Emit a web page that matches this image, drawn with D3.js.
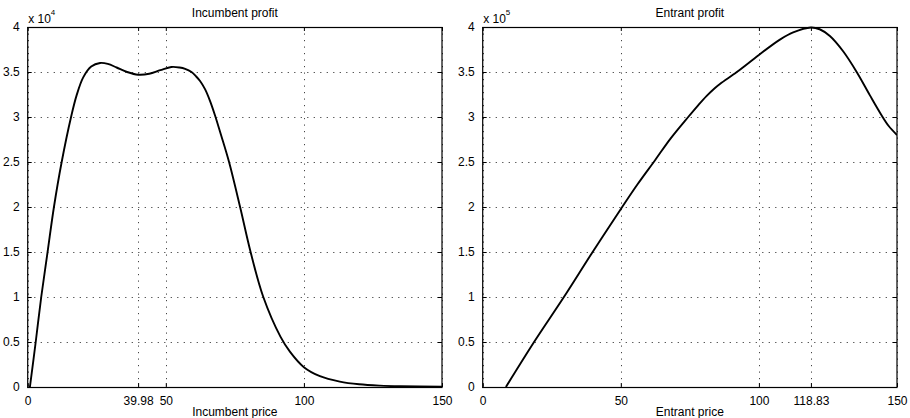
<!DOCTYPE html>
<html>
<head>
<meta charset="utf-8">
<script src="https://cdn.jsdelivr.net/npm/d3@7"></script>
<style>
  html, body { margin: 0; padding: 0; background: #fff; }
  svg { display: block; }
  text { font-family: "Liberation Sans", Arial, Helvetica, sans-serif; fill: #000; }
</style>
</head>
<body>
<svg id="chart" width="910" height="418"></svg>
<script>
// ---- data ----
const incumbentPrice = [0.8, 2.9, 4.9, 7.2, 9.5, 12.3, 15.7, 17.7, 20.1, 23, 26.2, 29, 32.2, 36, 40, 44, 48, 52, 55, 57, 59.3, 61, 62.4, 64.2, 66, 67.8, 70, 72.9, 76.9, 80.7, 85.3, 91.5, 95, 100, 105.8, 113, 120, 127.5, 135, 150];
const incumbentProfit = [0, 0.5, 1.0, 1.5, 2.0, 2.5, 3.0, 3.24, 3.44, 3.56, 3.60, 3.59, 3.55, 3.50, 3.47, 3.48, 3.52, 3.556, 3.55, 3.535, 3.50, 3.45, 3.40, 3.31, 3.18, 3.02, 2.80, 2.5, 2.0, 1.5, 1.0, 0.56, 0.39, 0.22, 0.12, 0.06, 0.03, 0.015, 0.008, 0.003];

const entrantPrice = [8.4, 18.6, 29.4, 39.8, 50.5, 56, 62.4, 68, 74.4, 78, 81.1, 84, 86, 92, 97.9, 100, 107.6, 112.4, 118.83, 122, 125.7, 130.5, 135.4, 140.2, 144.4, 147, 150];
const entrantProfit = [0, 0.5, 1.0, 1.5, 2.0, 2.25, 2.52, 2.76, 3.0, 3.13, 3.235, 3.32, 3.37, 3.5, 3.64, 3.69, 3.86, 3.94, 3.995, 3.975, 3.90, 3.73, 3.5, 3.24, 3.02, 2.90, 2.80];

const incumbentXTicks = [0, 39.98, 50, 100, 150];
const incumbentXTickLabels = ["0", "39.98", "50", "100", "150"];
const entrantXTicks = [0, 50, 100, 118.83, 150];
const entrantXTickLabels = ["0", "50", "100", "118.83", "150"];
const yTicks = [0, 0.5, 1, 1.5, 2, 2.5, 3, 3.5, 4];
const yTickLabels = ["0", "0.5", "1", "1.5", "2", "2.5", "3", "3.5", "4"];

const titles = ["Incumbent profit", "Entrant profit"];
const xLabels = ["Incumbent price", "Entrant price"];
const exponents = ["4", "5"];

// ---- drawing ----
const svg = d3.select("#chart");
const panels = [
  { left: 27.7, right: 442, px: incumbentPrice, py: incumbentProfit, xt: incumbentXTicks, xl: incumbentXTickLabels },
  { left: 482.7, right: 897, px: entrantPrice, py: entrantProfit, xt: entrantXTicks, xl: entrantXTickLabels }
];
const plotTop = 27, plotBottom = 387;

panels.forEach((p, i) => {
  const x = d3.scaleLinear().domain([0, 150]).range([p.left, p.right]);
  const y = d3.scaleLinear().domain([0, 4]).range([plotBottom, plotTop]);
  const g = svg.append("g");

  // grid
  const grid = g.append("g").attr("stroke", "#444").attr("stroke-width", 1).attr("stroke-dasharray", "1.2,5.3");
  p.xt.forEach(v => {
    grid.append("line").attr("x1", Math.round(x(v)) + 0.5).attr("x2", Math.round(x(v)) + 0.5)
      .attr("y1", plotTop).attr("y2", plotBottom);
  });
  yTicks.forEach(v => {
    grid.append("line").attr("y1", Math.round(y(v)) + 0.5).attr("y2", Math.round(y(v)) + 0.5)
      .attr("x1", p.left).attr("x2", p.right);
  });

  // curve
  const clipId = "clip" + i;
  svg.append("clipPath").attr("id", clipId).append("rect")
    .attr("x", p.left).attr("y", plotTop - 2).attr("width", p.right - p.left).attr("height", plotBottom - plotTop + 2);
  const line = d3.line().x(d => x(d[0])).y(d => y(d[1])).curve(d3.curveCatmullRom.alpha(0.5));
  g.append("path").datum(p.px.map((v, k) => [v, p.py[k]]))
    .attr("clip-path", `url(#${clipId})`)
    .attr("fill", "none").attr("stroke", "#000").attr("stroke-width", 1.9)
    .attr("stroke-linejoin", "round").attr("d", line);

  // axes
  const xa = d3.axisBottom(x).tickValues(p.xt).tickFormat((d, k) => p.xl[k]).tickSizeInner(-4).tickSizeOuter(0).tickPadding(9);
  const xaTop = d3.axisTop(x).tickValues(p.xt).tickFormat("").tickSizeInner(-4).tickSizeOuter(0);
  const ya = d3.axisLeft(y).tickValues(yTicks).tickFormat((d, k) => yTickLabels[k]).tickSizeInner(-4).tickSizeOuter(0).tickPadding(8);
  const yaRight = d3.axisRight(y).tickValues(yTicks).tickFormat("").tickSizeInner(-4).tickSizeOuter(0);

  const styleAxis = sel => {
    sel.selectAll(".domain").remove();
    sel.selectAll("line").attr("stroke", "#000");
    sel.selectAll("text").attr("font-size", 12).attr("font-family", "Liberation Sans, Arial, sans-serif");
  };
  g.append("g").attr("transform", `translate(0,${plotBottom})`).call(xa).call(styleAxis);
  g.append("g").attr("transform", `translate(0,${plotTop})`).call(xaTop).call(styleAxis);
  g.append("g").attr("transform", `translate(${p.left},0)`).call(ya).call(styleAxis);
  g.append("g").attr("transform", `translate(${p.right},0)`).call(yaRight).call(styleAxis);

  // box
  g.append("rect").attr("x", p.left).attr("y", plotTop + 0.5).attr("width", p.right - p.left).attr("height", plotBottom - plotTop)
    .attr("fill", "none").attr("stroke", "#000").attr("stroke-width", 1.2);

  // title
  const cx = (p.left + p.right) / 2;
  g.append("text").attr("x", cx).attr("y", 17).attr("text-anchor", "middle").attr("font-size", 12).text(titles[i]);
  g.append("text").attr("x", cx).attr("y", 416).attr("text-anchor", "middle").attr("font-size", 12).text(xLabels[i]);

  // exponent
  g.append("text").attr("x", p.left + 0.5).attr("y", 22.5).attr("font-size", 12).text("x 10");
  g.append("text").attr("x", p.left + 23).attr("y", 15).attr("font-size", 8).text(exponents[i]);
});
</script>
</body>
</html>
